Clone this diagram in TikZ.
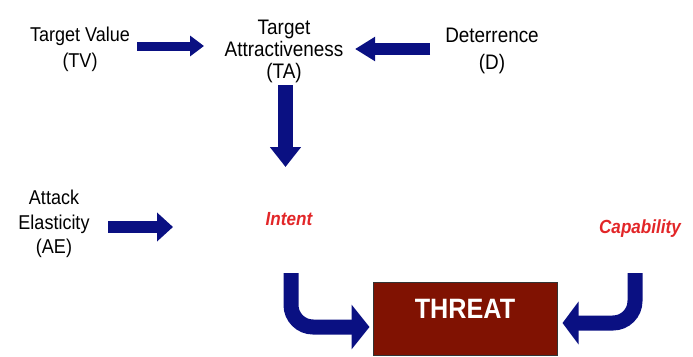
\documentclass[tikz,border=0pt]{standalone}
\usepackage{fontspec}
\setmainfont[FakeStretch=0.9]{Liberation Sans}
\usetikzlibrary{arrows.meta}
\definecolor{navy}{RGB}{10,16,130}
\definecolor{threatred}{RGB}{128,18,2}
\definecolor{labelred}{RGB}{226,38,40}
\tikzset{
  lbl/.style={align=center, inner sep=0pt, anchor=north, text=black},
  redlbl/.style={inner sep=0pt, anchor=north, text=labelred,
    font=\fontsize{19}{22}\selectfont\bfseries\itshape},
  bluearrow/.style={draw=navy, line cap=butt},
}
\begin{document}
\begin{tikzpicture}[x=1pt, y=-1pt]
  \useasboundingbox (0,0) rectangle (693,356);

  % factor labels
  \node[lbl, font=\fontsize{20}{26}\selectfont] (tv) at (80,27) {Target Value\\(TV)};
  \node[lbl, font=\fontsize{21}{21.8}\selectfont] (ta) at (284,20) {Target\\Attractiveness\\(TA)};
  \node[lbl, font=\fontsize{21}{27}\selectfont] (d) at (492,28) {Deterrence\\(D)};
  \node[lbl, font=\fontsize{20}{24.5}\selectfont] (ae) at (54,190) {Attack\\Elasticity\\(AE)};
  \node[redlbl] (intent) at (289,212) {Intent};
  \node[redlbl] (cap) at (640,220) {Capability};

  % result box
  \node[draw=black!80, line width=1pt, fill=threatred, text=white,
        font=\fontsize{28}{30}\selectfont\bfseries,
        minimum width=184pt, inner ysep=0pt, text height=36pt, text depth=37pt,
        anchor=north] (threat) at (465,282) {THREAT};

  % arrow end points
  \coordinate (tvA) at (137,46);   \coordinate (tvB) at (204,46);
  \coordinate (dA)  at (430,49);   \coordinate (dB)  at (355,49);
  \coordinate (taA) at (285.5,85); \coordinate (taB) at (285.5,167);
  \coordinate (aeA) at (108,227);  \coordinate (aeB) at (173,227);
  \coordinate (inA) at (291,273);  \coordinate (inC) at (291,327);
  \coordinate (caA) at (635,273);  \coordinate (caC) at (635,323);

  \draw[bluearrow, line width=9pt,
        -{Triangle[length=14pt,width=20pt]}] (tvA) -- (tvB);
  \draw[bluearrow, line width=12pt,
        -{Triangle[length=20pt,width=23pt]}] (dA) -- (dB);
  \draw[bluearrow, line width=15pt,
        -{Triangle[length=20pt,width=30pt]}] (taA) -- (taB);
  \draw[bluearrow, line width=12pt,
        -{Triangle[length=16pt,width=28pt]}] (aeA) -- (aeB);

  \draw[bluearrow, line width=15pt, rounded corners=22pt,
        -{Triangle[length=18pt,width=44pt]}]
    (inA) -- (inC) -- ([xshift=-3pt]threat.west |- inC);
  \draw[bluearrow, line width=15pt, rounded corners=22pt,
        -{Triangle[length=16pt,width=42pt]}]
    (caA) -- (caC) -- ([xshift=5pt]threat.east |- caC);
\end{tikzpicture}
\end{document}
